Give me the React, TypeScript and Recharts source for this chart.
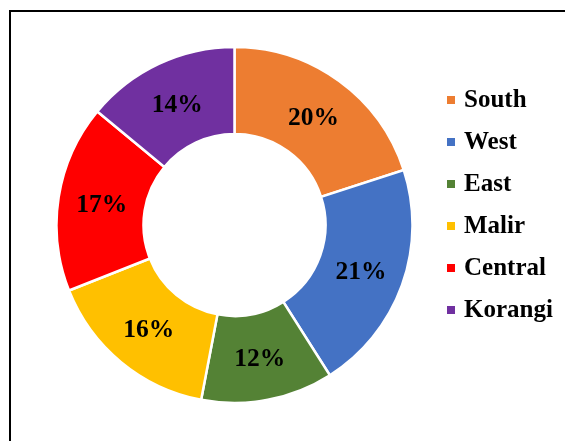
import React from 'react';
import { PieChart, Pie, Cell, Legend } from 'recharts';

const districts = ['South', 'West', 'East', 'Malir', 'Central', 'Korangi'];
const shares = [20, 21, 12, 16, 17, 14];
const colors = ['#ED7D31', '#4472C4', '#548235', '#FFC000', '#FF0000', '#7030A0'];

const chartData = districts.map((name, i) => ({ name, value: shares[i] }));

const RADIAN = Math.PI / 180;
const FONT = '"Liberation Serif", "Times New Roman", serif';

const renderLabel = (props: any) => {
  const { cx, cy, midAngle, innerRadius, outerRadius, value } = props;
  const r = (innerRadius + outerRadius) / 2;
  const x = cx + r * Math.cos(-midAngle * RADIAN);
  const y = cy + r * Math.sin(-midAngle * RADIAN);
  return (
    <text
      x={x}
      y={y}
      fill="#000"
      textAnchor="middle"
      dominantBaseline="central"
      style={{ fontFamily: FONT, fontWeight: 700, fontSize: 25.5 }}
    >
      {`${value}%`}
    </text>
  );
};

const LegendContent = () => (
  <div>
    {districts.map((name, i) => (
      <div key={name} style={{ display: 'flex', alignItems: 'center', height: 42 }}>
        <span
          style={{
            display: 'inline-block',
            width: 8,
            height: 8,
            background: colors[i],
            marginRight: 9,
            marginTop: 2,
          }}
        />
        <span style={{ fontFamily: FONT, fontWeight: 700, fontSize: 25, color: '#000' }}>
          {name}
        </span>
      </div>
    ))}
  </div>
);

export default function App() {
  return (
    <div>
      {/* frame: only top and left edges are visible in the picture */}
      <div
        style={{
          position: 'fixed',
          left: 9,
          top: 10,
          width: 600,
          height: 480,
          borderTop: '2px solid #000',
          borderLeft: '2px solid #000',
        }}
      />
      <div style={{ position: 'fixed', left: 0, top: 0 }}>
        <PieChart width={565} height={441} margin={{ top: 0, right: 0, bottom: 0, left: 0 }}>
          <Pie
            data={chartData}
            dataKey="value"
            nameKey="name"
            cx={234.5}
            cy={225}
            innerRadius={91}
            outerRadius={178}
            startAngle={90}
            endAngle={-270}
            stroke="#fff"
            strokeWidth={2.5}
            label={renderLabel}
            labelLine={false}
            isAnimationActive={false}
          >
            {chartData.map((d, i) => (
              <Cell key={d.name} fill={colors[i]} />
            ))}
          </Pie>
          <Legend
            layout="vertical"
            content={<LegendContent />}
            wrapperStyle={{ left: 447, top: 78, width: 118 }}
          />
        </PieChart>
      </div>
    </div>
  );
}
